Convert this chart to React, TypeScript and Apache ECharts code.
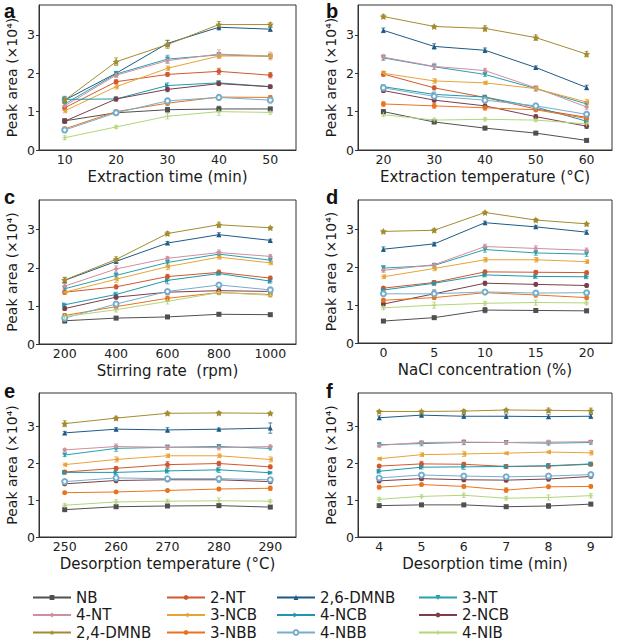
import React, { useEffect, useRef } from "react";
import * as echarts from "echarts";

// ---------- series identity ----------
const seriesNames = ["NB", "2-NT", "2,6-DMNB", "3-NT", "4-NT", "3-NCB", "4-NCB", "2-NCB", "2,4-DMNB", "3-NBB", "4-NBB", "4-NIB"];
const seriesColors = ["#505050", "#d0582f", "#1d5b86", "#2a9fae", "#d08f9c", "#e8a336", "#1f98ab", "#7b3f4a", "#a38c2e", "#e8741f", "#76aecb", "#b2d57a"];
const STAR = "path://M0,-10L2.9,-4L9.5,-3.1L4.8,1.5L5.9,8.1L0,5L-5.9,8.1L-4.8,1.5L-9.5,-3.1L-2.9,-4Z";
const PLUS = "path://M-1,-5H1V-1H5V1H1V5H-1V1H-5V-1H-1Z";
const seriesSymbols = ["rect", "circle", "triangle", "triangle", "diamond", "triangle", "triangle", "circle", STAR, "circle", "emptyCircle", PLUS];
const symbolRotates = [0, 0, 0, 180, 0, 90, -90, 0, 0, 0, 0, 0];

// ---------- x categories ----------
const xExtractionTime = ["10", "20", "30", "40", "50"];
const xExtractionTemp = ["20", "30", "40", "50", "60"];
const xStirringRate = ["200", "400", "600", "800", "1000"];
const xNaCl = ["0", "5", "10", "15", "20"];
const xDesorptionTemp = ["250", "260", "270", "280", "290"];
const xDesorptionTime = ["4", "5", "6", "7", "8", "9"];

// ---------- values (rows in seriesNames order), peak area x10^4 ----------
const valuesA = [
  [0.76, 0.97, 1.05, 1.07, 1.07],
  [1.1, 1.78, 1.97, 2.05, 1.95],
  [1.3, 2.0, 2.78, 3.2, 3.15],
  [1.2, 1.98, 2.37, 2.48, 2.44],
  [1.15, 1.95, 2.33, 2.5, 2.45],
  [1.02, 1.65, 2.13, 2.45, 2.45],
  [1.32, 1.33, 1.68, 1.75, 1.65],
  [0.75, 1.33, 1.58, 1.73, 1.65],
  [1.3, 2.3, 2.75, 3.27, 3.27],
  [0.55, 1.0, 1.22, 1.38, 1.37],
  [0.52, 0.97, 1.28, 1.37, 1.3],
  [0.32, 0.6, 0.88, 1.0, 0.98],
];
const errorsA = [
  [0.05, 0.04, 0.06, 0.07, 0.04],
  [0.06, 0.05, 0.05, 0.08, 0.07],
  [0.08, 0.05, 0.08, 0.07, 0.05],
  [0.07, 0.06, 0.1, 0.06, 0.05],
  [0.06, 0.06, 0.07, 0.11, 0.06],
  [0.05, 0.06, 0.06, 0.05, 0.1],
  [0.08, 0.05, 0.07, 0.06, 0.04],
  [0.05, 0.05, 0.06, 0.05, 0.04],
  [0.06, 0.1, 0.1, 0.08, 0.05],
  [0.05, 0.05, 0.06, 0.05, 0.05],
  [0.07, 0.06, 0.07, 0.08, 0.06],
  [0.05, 0.04, 0.07, 0.1, 0.05],
];

const valuesB = [
  [1.0, 0.73, 0.57, 0.44, 0.25],
  [1.98, 1.62, 1.37, 1.07, 0.85],
  [3.12, 2.7, 2.6, 2.15, 1.63],
  [2.4, 2.17, 1.97, 1.6, 1.2],
  [2.42, 2.18, 2.07, 1.62, 1.12],
  [2.0, 1.8, 1.75, 1.6, 1.25],
  [1.65, 1.45, 1.38, 1.12, 0.75],
  [1.55, 1.3, 1.15, 0.87, 0.62],
  [3.48, 3.22, 3.17, 2.93, 2.5],
  [1.2, 1.15, 1.1, 1.05, 0.82],
  [1.62, 1.4, 1.3, 1.15, 0.93],
  [0.92, 0.78, 0.8, 0.78, 0.68],
];
const errorsB = [
  [0.04, 0.03, 0.03, 0.03, 0.03],
  [0.06, 0.05, 0.05, 0.05, 0.05],
  [0.06, 0.07, 0.06, 0.04, 0.06],
  [0.06, 0.07, 0.05, 0.06, 0.06],
  [0.07, 0.08, 0.06, 0.05, 0.07],
  [0.06, 0.06, 0.04, 0.06, 0.07],
  [0.05, 0.06, 0.05, 0.06, 0.05],
  [0.05, 0.05, 0.05, 0.05, 0.06],
  [0.05, 0.03, 0.07, 0.07, 0.07],
  [0.06, 0.06, 0.06, 0.05, 0.05],
  [0.05, 0.05, 0.05, 0.06, 0.06],
  [0.04, 0.05, 0.04, 0.04, 0.04],
];

const valuesC = [
  [0.61, 0.68, 0.71, 0.78, 0.77],
  [1.36, 1.5, 1.77, 1.88, 1.73],
  [1.67, 2.17, 2.65, 2.87, 2.72],
  [1.45, 1.8, 2.14, 2.36, 2.2],
  [1.52, 1.97, 2.25, 2.4, 2.3],
  [1.36, 1.7, 2.03, 2.28, 2.13],
  [1.03, 1.3, 1.67, 1.85, 1.65],
  [0.93, 1.23, 1.36, 1.4, 1.38],
  [1.68, 2.22, 2.9, 3.13, 3.05],
  [0.75, 0.98, 1.2, 1.35, 1.3],
  [0.68, 1.05, 1.38, 1.55, 1.42],
  [0.72, 0.9, 1.12, 1.35, 1.28],
];
const errorsC = [
  [0.06, 0.04, 0.03, 0.03, 0.03],
  [0.05, 0.05, 0.06, 0.06, 0.05],
  [0.07, 0.05, 0.04, 0.05, 0.03],
  [0.06, 0.07, 0.07, 0.05, 0.05],
  [0.07, 0.08, 0.05, 0.07, 0.05],
  [0.06, 0.08, 0.08, 0.05, 0.05],
  [0.04, 0.06, 0.09, 0.04, 0.05],
  [0.05, 0.05, 0.06, 0.05, 0.05],
  [0.07, 0.07, 0.05, 0.07, 0.03],
  [0.05, 0.06, 0.06, 0.05, 0.05],
  [0.07, 0.07, 0.05, 0.04, 0.07],
  [0.06, 0.06, 0.07, 0.06, 0.05],
];

const valuesD = [
  [0.58, 0.67, 0.87, 0.86, 0.85],
  [1.45, 1.6, 1.88, 1.87, 1.86],
  [2.48, 2.62, 3.18, 3.07, 2.93],
  [1.98, 2.05, 2.47, 2.38, 2.35],
  [1.92, 2.07, 2.55, 2.5, 2.45],
  [1.75, 1.97, 2.2, 2.2, 2.15],
  [1.4, 1.58, 1.8, 1.76, 1.75],
  [1.03, 1.3, 1.58, 1.55, 1.52],
  [2.95, 2.98, 3.45, 3.25, 3.15],
  [1.13, 1.2, 1.33, 1.27, 1.2],
  [1.3, 1.3, 1.35, 1.32, 1.33],
  [0.93, 1.0, 1.05, 1.07, 1.06],
];
const errorsD = [
  [0.03, 0.03, 0.07, 0.05, 0.04],
  [0.04, 0.05, 0.04, 0.04, 0.04],
  [0.06, 0.04, 0.04, 0.04, 0.05],
  [0.06, 0.05, 0.07, 0.06, 0.06],
  [0.05, 0.04, 0.06, 0.07, 0.06],
  [0.05, 0.06, 0.06, 0.06, 0.05],
  [0.05, 0.06, 0.05, 0.05, 0.05],
  [0.04, 0.1, 0.05, 0.04, 0.04],
  [0.03, 0.05, 0.03, 0.04, 0.03],
  [0.05, 0.05, 0.05, 0.06, 0.05],
  [0.03, 0.1, 0.06, 0.06, 0.05],
  [0.05, 0.08, 0.05, 0.07, 0.05],
];

const valuesE = [
  [0.74, 0.82, 0.84, 0.85, 0.81],
  [1.76, 1.86, 1.96, 1.99, 1.9],
  [2.82, 2.92, 2.9, 2.92, 2.95],
  [2.22, 2.4, 2.43, 2.45, 2.4],
  [2.36, 2.45, 2.43, 2.42, 2.45],
  [1.96, 2.1, 2.2, 2.2, 2.1],
  [1.75, 1.75, 1.79, 1.82, 1.74],
  [1.44, 1.53, 1.55, 1.55, 1.5],
  [3.07, 3.22, 3.35, 3.36, 3.35],
  [1.2, 1.22, 1.26, 1.3, 1.32],
  [1.5, 1.6, 1.58, 1.58, 1.55],
  [0.86, 0.95, 0.97, 0.98, 0.97],
];
const errorsE = [
  [0.03, 0.03, 0.03, 0.04, 0.03],
  [0.04, 0.05, 0.08, 0.06, 0.05],
  [0.04, 0.04, 0.06, 0.03, 0.14],
  [0.04, 0.08, 0.05, 0.05, 0.04],
  [0.04, 0.07, 0.06, 0.06, 0.04],
  [0.04, 0.07, 0.05, 0.05, 0.07],
  [0.05, 0.06, 0.06, 0.07, 0.03],
  [0.04, 0.06, 0.05, 0.06, 0.05],
  [0.08, 0.05, 0.04, 0.03, 0.03],
  [0.03, 0.03, 0.03, 0.04, 0.06],
  [0.05, 0.05, 0.05, 0.06, 0.05],
  [0.04, 0.06, 0.04, 0.08, 0.04],
];

const valuesF = [
  [0.85, 0.87, 0.87, 0.82, 0.84, 0.89],
  [1.92, 1.98, 1.97, 1.91, 1.92, 1.97],
  [3.23, 3.3, 3.27, 3.27, 3.26, 3.27],
  [2.5, 2.53, 2.56, 2.56, 2.54, 2.56],
  [2.48, 2.56, 2.57, 2.56, 2.57, 2.58],
  [2.12, 2.23, 2.25, 2.27, 2.3, 2.28],
  [1.78, 1.89, 1.9, 1.91, 1.93, 1.98],
  [1.52, 1.58, 1.55, 1.54, 1.57, 1.64],
  [3.4, 3.4, 3.41, 3.44, 3.43, 3.42],
  [1.35, 1.42, 1.37, 1.27, 1.36, 1.37],
  [1.6, 1.68, 1.65, 1.63, 1.65, 1.69],
  [1.02, 1.1, 1.13, 1.05, 1.07, 1.12],
];
const errorsF = [
  [0.03, 0.03, 0.03, 0.03, 0.06, 0.03],
  [0.04, 0.07, 0.05, 0.04, 0.07, 0.04],
  [0.05, 0.03, 0.05, 0.06, 0.05, 0.05],
  [0.05, 0.06, 0.06, 0.04, 0.05, 0.05],
  [0.05, 0.05, 0.06, 0.05, 0.05, 0.04],
  [0.03, 0.05, 0.07, 0.03, 0.03, 0.06],
  [0.05, 0.05, 0.07, 0.05, 0.05, 0.05],
  [0.05, 0.05, 0.05, 0.05, 0.05, 0.04],
  [0.03, 0.03, 0.04, 0.03, 0.06, 0.07],
  [0.05, 0.04, 0.05, 0.06, 0.04, 0.04],
  [0.05, 0.05, 0.06, 0.06, 0.05, 0.05],
  [0.05, 0.04, 0.06, 0.05, 0.07, 0.06],
];

// ---------- axis texts ----------
const yAxisTitle = "Peak area (×10⁴)";
const yTickValues = [0, 1, 2, 3];
const panelLetters = ["a", "b", "c", "d", "e", "f"];
const xTitles = [
  "Extraction time (min)",
  "Extraction temperature (°C)",
  "Stirring rate  (rpm)",
  "NaCl concentration (%)",
  "Desorption temperature (°C)",
  "Desorption time (min)",
];
// legend reading order (row by row, 4 columns)
const legendOrder = ["NB", "2-NT", "2,6-DMNB", "3-NT", "4-NT", "3-NCB", "4-NCB", "2-NCB", "2,4-DMNB", "3-NBB", "4-NBB", "4-NIB"];

const FONT = "DejaVu Sans";

export default function App() {
  const ref = useRef<HTMLDivElement>(null);

  useEffect(() => {
    if (!ref.current) return;
    const chart = echarts.init(ref.current, undefined, { renderer: "svg" });

    const panels = [
      { x: xExtractionTime, v: valuesA, e: errorsA, grid: { left: 39, top: 5, width: 257, height: 145 }, ymax: 3.78 },
      { x: xExtractionTemp, v: valuesB, e: errorsB, grid: { left: 358, top: 5, width: 254, height: 145 }, ymax: 3.78 },
      { x: xStirringRate, v: valuesC, e: errorsC, grid: { left: 39, top: 200, width: 257, height: 144 }, ymax: 3.78 },
      { x: xNaCl, v: valuesD, e: errorsD, grid: { left: 358, top: 200, width: 254, height: 143 }, ymax: 3.78 },
      { x: xDesorptionTemp, v: valuesE, e: errorsE, grid: { left: 39, top: 393, width: 257, height: 144 }, ymax: 3.9 },
      { x: xDesorptionTime, v: valuesF, e: errorsF, grid: { left: 358, top: 393, width: 254, height: 144 }, ymax: 3.9 },
    ];

    const axisColor = "#333";
    const grids = panels.map((p) => ({
      ...p.grid,
      show: true,
      borderColor: axisColor,
      borderWidth: 1,
      backgroundColor: "transparent",
    }));

    const xAxes = panels.map((p, i) => ({
      type: "category",
      gridIndex: i,
      data: p.x,
      boundaryGap: true,
      axisLine: { lineStyle: { color: axisColor, width: 1 } },
      axisTick: { alignWithLabel: true, length: 3, lineStyle: { color: axisColor } },
      axisLabel: { color: "#222", fontSize: 12.5, fontFamily: FONT, margin: 3 },
      name: xTitles[i],
      nameLocation: "middle",
      nameGap: 19,
      nameTextStyle: { color: "#1a1a1a", fontSize: 15, fontFamily: FONT },
    }));

    const yAxes = panels.map((p, i) => ({
      type: "value",
      gridIndex: i,
      min: 0,
      max: p.ymax,
      interval: 1,
      splitLine: { show: false },
      axisLine: { show: true, lineStyle: { color: axisColor, width: 1 } },
      axisTick: { show: true, length: 3, lineStyle: { color: axisColor }, customValues: yTickValues },
      axisLabel: { color: "#222", fontSize: 12.5, fontFamily: FONT, margin: 4, customValues: yTickValues },
      name: yAxisTitle,
      nameLocation: "middle",
      nameGap: 20,
      nameTextStyle: { color: "#1a1a1a", fontSize: 14, fontFamily: FONT },
    }));

    const series: any[] = [];
    panels.forEach((p, pi) => {
      p.v.forEach((vals, si) => {
        series.push({
          type: "line",
          name: seriesNames[si],
          xAxisIndex: pi,
          yAxisIndex: pi,
          data: vals,
          symbol: seriesSymbols[si],
          symbolRotate: symbolRotates[si],
          symbolSize: seriesSymbols[si] === STAR ? 7 : 5,
          lineStyle: { color: seriesColors[si], width: 1 },
          itemStyle: { color: seriesColors[si] },
          z: 3,
        });
      });
    });
    panels.forEach((p, pi) => {
      p.v.forEach((vals, si) => {
        const color = seriesColors[si];
        series.push({
          type: "custom",
          xAxisIndex: pi,
          yAxisIndex: pi,
          silent: true,
          z: 2,
          data: vals.map((v, k) => [k, v, p.e[si][k]]),
          renderItem: (_params: any, api: any) => {
            const x = api.value(0);
            const y = api.value(1);
            const e = api.value(2);
            const hi = api.coord([x, y + e]);
            const lo = api.coord([x, y - e]);
            const w = 2;
            const st = { stroke: color, lineWidth: 1, opacity: 0.75 };
            return {
              type: "group",
              children: [
                { type: "line", shape: { x1: hi[0], y1: hi[1], x2: lo[0], y2: lo[1] }, style: st },
                { type: "line", shape: { x1: hi[0] - w, y1: hi[1], x2: hi[0] + w, y2: hi[1] }, style: st },
                { type: "line", shape: { x1: lo[0] - w, y1: lo[1], x2: lo[0] + w, y2: lo[1] }, style: st },
              ],
            };
          },
        });
      });
    });

    const colLefts = [32, 166, 276, 418];
    const rowCenters = [597, 614.5, 632];
    const legends = legendOrder.map((name, k) => ({
      orient: "horizontal",
      left: colLefts[k % 4],
      top: rowCenters[Math.floor(k / 4)] - 7,
      data: [name],
      itemWidth: 38,
      itemHeight: 6,
      padding: 0,
      selectedMode: false,
      textStyle: { color: "#1a1a1a", fontSize: 15, fontFamily: FONT, lineHeight: 14 },
    }));

    const letterPos = [
      [4, 1],
      [326, 1],
      [4, 187],
      [326, 187],
      [4, 381],
      [326, 381],
    ];
    const graphics = panelLetters.map((l, i) => ({
      type: "text",
      left: letterPos[i][0],
      top: letterPos[i][1],
      style: { text: l, fontSize: 20, fontWeight: "bold", fontFamily: "Liberation Sans", fill: "#111" },
    }));

    chart.setOption({
      animation: false,
      backgroundColor: "#fff",
      grid: grids,
      xAxis: xAxes,
      yAxis: yAxes,
      legend: legends,
      graphic: graphics,
      series,
    });

    return () => chart.dispose();
  }, []);

  return (
    <div
      ref={ref}
      style={{ position: "fixed", left: 0, top: 0, width: 620, height: 641 }}
    />
  );
}
